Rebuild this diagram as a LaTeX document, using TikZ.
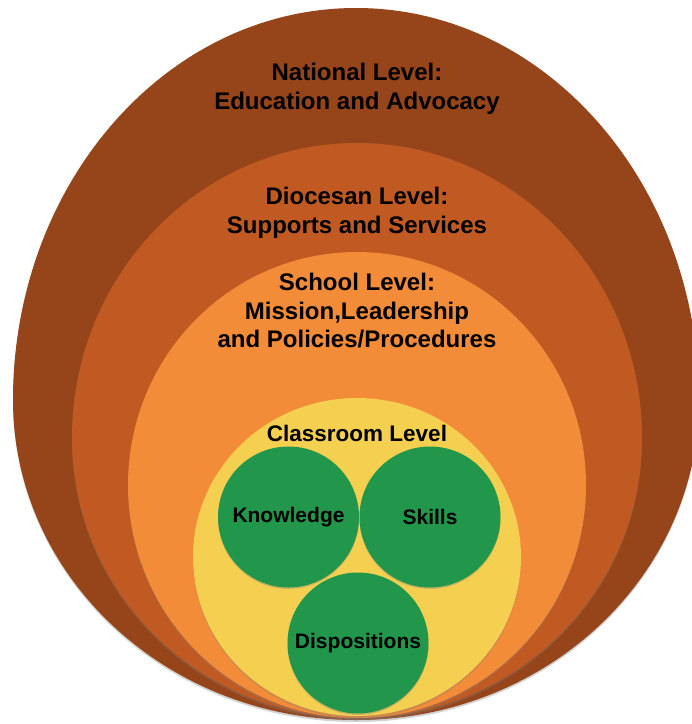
\documentclass[tikz,border=0pt]{standalone}
\usepackage{fontspec}
\setmainfont{Liberation Sans}
\usetikzlibrary{shadows}
\definecolor{natbrown}{HTML}{954519}
\definecolor{diorange}{HTML}{C05A22}
\definecolor{schorange}{HTML}{F28C38}
\definecolor{classyellow}{HTML}{F5CF50}
\definecolor{skillgreen}{HTML}{22974B}
\tikzset{
  levelshape/.style={drop shadow={opacity=0.35,shadow xshift=0pt,shadow yshift=-2pt}},
  leveltext/.style={font=\fontsize{24}{28.5}\selectfont\bfseries, align=center, text=black},
  classtext/.style={font=\fontsize{22.5}{26}\selectfont\bfseries, text=black},
  ball/.style={circle, fill=skillgreen, minimum size=141pt, inner sep=0pt,
    font=\fontsize{21}{25}\selectfont\bfseries, text=black,
    drop shadow={opacity=0.35,shadow xshift=0pt,shadow yshift=-1.5pt}}
}
\begin{document}
\begin{tikzpicture}[x=1pt,y=-1pt]
\useasboundingbox (0,0) rectangle (692,724);
\fill[white] (0,0) rectangle (692,724);
% nested levels (outer one egg-shaped: taller upper half)
\fill[natbrown, levelshape] (13,400)
   arc[start angle=180, end angle=0, x radius=343pt, y radius=392pt]
   arc[start angle=0, end angle=-180, x radius=343pt, y radius=320pt] -- cycle;
\fill[diorange, levelshape] (72,438)
   arc[start angle=180, end angle=0, x radius=285pt, y radius=295pt]
   arc[start angle=0, end angle=-180, x radius=285pt, y radius=280pt] -- cycle;
\fill[schorange, levelshape] (357,485) ellipse [x radius=229pt, y radius=233pt];
\fill[classyellow, levelshape] (357,557) ellipse [x radius=164pt, y radius=159pt];
% labels
\node[leveltext] (national) at (357,89) {National Level:\\Education and Advocacy};
\node[leveltext] (diocesan) at (357,213) {Diocesan Level:\\Supports and Services};
\node[leveltext] (school) at (357,311) {School Level:\\Mission,Leadership\\and Policies/Procedures};
\node[classtext] (classroom) at (357,433) {Classroom Level};
% green circles
\node[ball] (knowledge) at (288.5,517) {Knowledge};
\node[ball] (skills) at (430,517) {Skills};
\node[ball] (dispositions) at (358,643) {Dispositions};
\end{tikzpicture}
\end{document}
